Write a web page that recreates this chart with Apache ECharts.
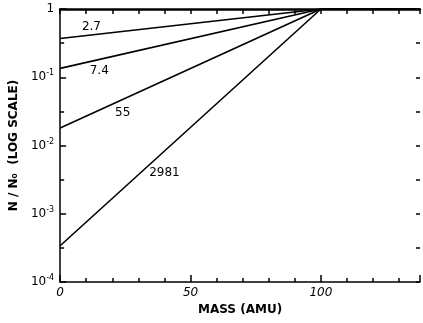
<!DOCTYPE html>
<html><head><meta charset="utf-8">
<script src="https://cdn.jsdelivr.net/npm/echarts@6/dist/echarts.min.js"></script>
<style>html,body{margin:0;padding:0;background:#fff}#c{width:423px;height:323px}</style>
</head><body><div id="c"></div>
<script>
// Data
const mass = [0, 100, 138];
const curve27 = [0.37, 1, 1];
const curve74 = [0.135, 1, 1];
const curve55 = [0.018, 1, 1];
const curve2981 = [0.00034, 1, 1];
const curveNames = ['2.7', '7.4', '55', '2981'];
const yTickValues = [1, 0.1, 0.01, 0.001, 0.0001];
const xTickLabels = [0, 50, 100];

// label anchor points (data coordinates)
const labelAt = [[12, 0.54], [15, 0.125], [24, 0.03], [40, 0.0040]];

const font = 'DejaVu Sans';
const chart = echarts.init(document.getElementById('c'));
const curves = [curve27, curve74, curve55, curve2981];
const series = curves.map((c, i) => ({
  type: 'line', name: curveNames[i], xAxisIndex: 0, yAxisIndex: 0,
  data: mass.map((m, j) => [m, c[j]]), symbol: 'none', silent: true,
  lineStyle: {color: '#000', width: 1.6},
  markPoint: {
    symbol: 'circle', symbolSize: 0, silent: true,
    data: [{coord: labelAt[i], value: curveNames[i]}],
    label: {show: true, position: 'inside', formatter: curveNames[i], color: '#000',
      fontFamily: font, fontSize: 12}
  }
}));
const sup = {fontFamily: font, fontSize: 8, color: '#000', verticalAlign: 'top', padding: [0, 0, 8, 0]};
const tick = (len) => ({show: true, inside: true, length: len, lineStyle: {color: '#000', width: 1.5}});
chart.setOption({
  animation: false,
  grid: {left: 56, right: 0, top: 9, bottom: 41},
  xAxis: [
    {type: 'value', position: 'bottom', offset: 0, min: 0, max: 138, interval: 10,
      axisLine: {show: true, onZero: false, lineStyle: {color: '#000', width: 1.5}},
      axisTick: tick(4),
      axisLabel: {show: false}, splitLine: {show: false}},
    {type: 'value', position: 'bottom', offset: 0, min: 0, max: 138, interval: 50,
      axisLine: {show: false, onZero: false},
      axisTick: tick(7),
      axisLabel: {color: '#000', fontFamily: font, fontSize: 12, fontStyle: 'italic', margin: 5,
        formatter: v => xTickLabels.includes(v) ? String(v) : ''},
      name: 'MASS (AMU)', nameLocation: 'middle', nameGap: 21,
      nameTextStyle: {color: '#000', fontFamily: font, fontSize: 12, fontWeight: 'bold'},
      splitLine: {show: false}},
    {type: 'value', position: 'top', offset: 0, min: 0, max: 138, interval: 10,
      axisLine: {show: true, onZero: false, lineStyle: {color: '#000', width: 2.5}},
      axisTick: tick(5),
      axisLabel: {show: false}, splitLine: {show: false}}
  ],
  yAxis: [
    {type: 'log', logBase: 10, min: 0.0001, max: 1, position: 'left', offset: 0,
      axisLine: {show: true, onZero: false, lineStyle: {color: '#000', width: 1.5}},
      axisTick: tick(6),
      axisLabel: {color: '#000', fontFamily: font, fontSize: 12, margin: 6,
        formatter: v => {
          if (!yTickValues.some(t => Math.abs(t - v) / t < 1e-6)) return '';
          if (v >= 0.999) return '1';
          return '{b|10}{s|' + Math.round(Math.log10(v)) + '}';
        },
        rich: {b: {fontFamily: font, fontSize: 12, color: '#000'}, s: sup}},
      name: 'N / N\u2080  (LOG SCALE)', nameLocation: 'middle', nameGap: 37, nameRotate: 90,
      nameTextStyle: {color: '#000', fontFamily: font, fontSize: 12, fontWeight: 'bold'},
      splitLine: {show: false}},
    {type: 'value', min: -4, max: 0, interval: 0.5, position: 'left', offset: 0,
      axisLine: {show: false, onZero: false},
      axisTick: tick(4),
      axisLabel: {show: false}, splitLine: {show: false}},
    {type: 'value', min: -4, max: 0, interval: 0.5, position: 'right', offset: 0,
      axisLine: {show: false, onZero: false},
      axisTick: tick(4),
      axisLabel: {show: false}, splitLine: {show: false}}
  ],
  series: series
});
</script></body></html>
